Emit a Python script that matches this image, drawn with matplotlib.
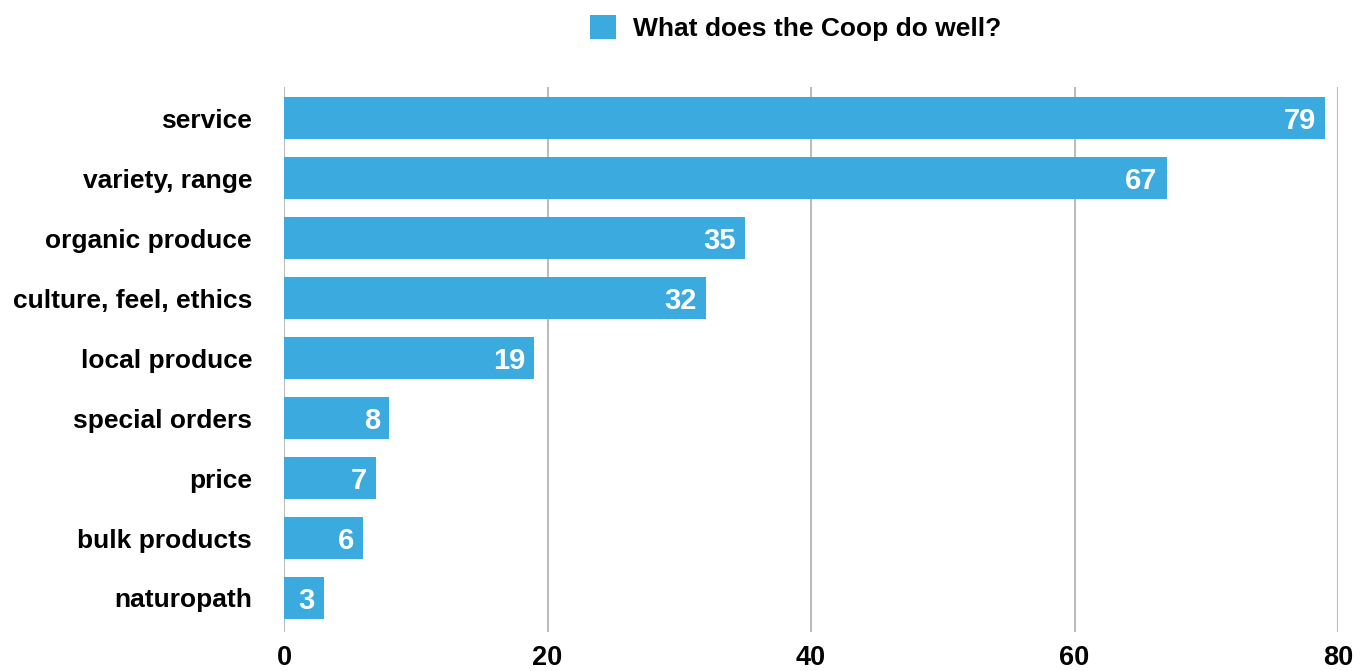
import matplotlib
matplotlib.use("Agg")
import matplotlib.pyplot as plt
from matplotlib.patches import Patch

categories = ["service", "variety, range", "organic produce", "culture, feel, ethics",
              "local produce", "special orders", "price", "bulk products", "naturopath"]
values = [79, 67, 35, 32, 19, 8, 7, 6, 3]
series_name = "What does the Coop do well?"
x_ticks = [0, 20, 40, 60, 80]

BAR_COLOR = "#3AAADF"
GRID_COLOR = "#bcbcbc"

plt.rcParams["font.family"] = ["Liberation Sans", "DejaVu Sans"]
plt.rcParams["font.weight"] = "bold"

fig = plt.figure(figsize=(13.67, 6.71), dpi=100)
ax = fig.add_axes([0.2078, 0.0581, 0.7710, 0.8122])

pos = list(range(len(categories)))
bars = ax.barh(pos, values, height=0.7, color=BAR_COLOR, zorder=3)

for rect, v in zip(bars, values):
    ax.annotate(str(v), xy=(rect.get_width(), rect.get_y() + rect.get_height() / 2),
                xytext=(-6.5, 0), textcoords="offset points",
                ha="right", va="center_baseline", color="white",
                fontsize=21, fontweight="bold", zorder=4)

ax.set_xlim(0, 80)
ax.set_ylim(len(categories) - 1 + 0.567, -0.517)
ax.set_xticks(x_ticks)
ax.set_xticklabels([str(t) for t in x_ticks], fontsize=19.5, fontweight="bold")
ax.set_yticks(pos)
ax.set_yticklabels(categories, fontsize=19, fontweight="bold")
ax.tick_params(axis="both", length=0)
ax.tick_params(axis="y", pad=23)
ax.tick_params(axis="x", pad=9)

ax.grid(axis="x", color=GRID_COLOR, linewidth=1.5, zorder=0)
ax.grid(axis="y", visible=False)
for s in ax.spines.values():
    s.set_visible(False)

handle = Patch(facecolor=BAR_COLOR, edgecolor="none")
fig.legend([handle], [series_name], loc="center", bbox_to_anchor=(0.582, 0.958),
           frameon=False, handlelength=1.0, handleheight=1.0,
           handletextpad=0.65, prop={"weight": "bold", "size": 19})

fig.savefig("out.png", dpi=100, facecolor="white")
